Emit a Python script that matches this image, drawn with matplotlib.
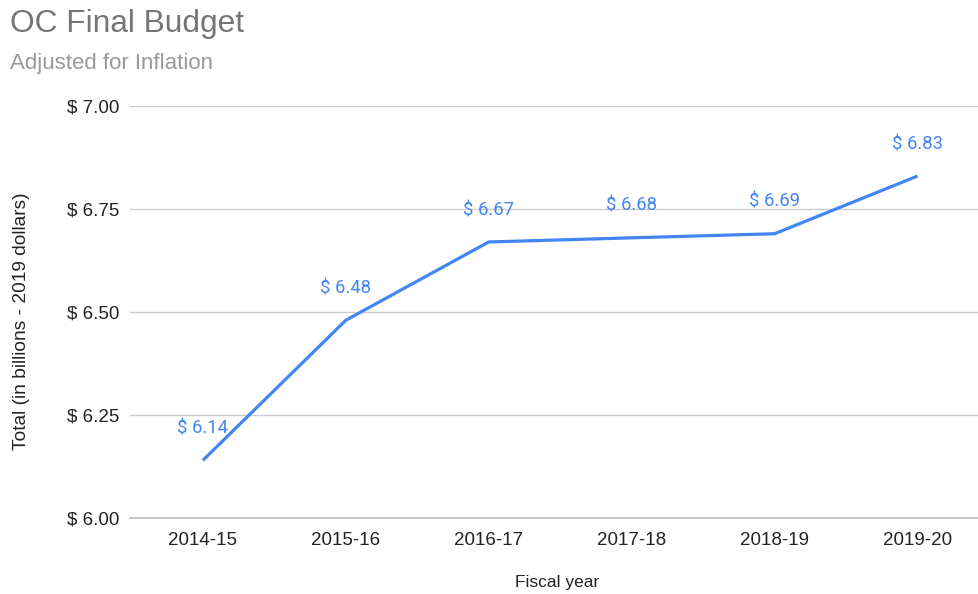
import matplotlib
matplotlib.use("Agg")
import matplotlib.pyplot as plt

years = ["2014-15", "2015-16", "2016-17", "2017-18", "2018-19", "2019-20"]
budget = [6.14, 6.48, 6.67, 6.68, 6.69, 6.83]
yticks = [6.00, 6.25, 6.50, 6.75, 7.00]

W, H = 979, 594
fig = plt.figure(figsize=(W / 100, H / 100), dpi=100)
ax = fig.add_axes([130 / W, (H - 518) / H, (979 - 130) / W, (518 - 106) / H])

x = list(range(len(years)))
ax.plot(x, budget, color="#4285F4", lw=2.3, solid_capstyle="butt", zorder=3)
for xi, v in zip(x, budget):
    ax.annotate(f"$ {v:.2f}", (xi, v), xytext=(0, 23), textcoords="offset points",
                ha="center", va="center", color="#4285F4", fontsize=13.3,
                family=["Roboto", "DejaVu Sans"])

ax.set_xlim(-0.51, 5.43)
ax.set_ylim(6.0, 7.0)
ax.set_yticks(yticks)
ax.set_yticklabels([f"$ {t:.2f}" for t in yticks])
ax.set_xticks(x)
ax.set_xticklabels(years)
ax.grid(axis="y", color="#cccccc", lw=1)
ax.set_axisbelow(True)
for s in ax.spines.values():
    s.set_visible(False)
ax.spines["bottom"].set_visible(True)
ax.spines["bottom"].set_color("#bbbbbb")
ax.spines["bottom"].set_linewidth(1.2)
ax.tick_params(length=0, labelsize=13.5, colors="#222222", pad=10)
ax.tick_params(axis="y", pad=8)
for lab in ax.get_xticklabels() + ax.get_yticklabels():
    lab.set_family(["Liberation Sans", "DejaVu Sans"])

fig.text(557 / W, 1 - 583 / H, "Fiscal year", ha="center", va="center",
         fontsize=12.5, color="#222222", family=["Liberation Sans"])
fig.text(22 / W, 1 - 321 / H, "Total (in billions - 2019 dollars)", rotation=90,
         ha="center", va="center", fontsize=13.8, color="#222222", family=["Liberation Sans"])
fig.text(10 / W, 1 - 24 / H, "OC Final Budget", ha="left", va="center",
         fontsize=22.8, color="#757575", family=["Liberation Sans"])
fig.text(10 / W, 1 - 64 / H, "Adjusted for Inflation", ha="left", va="center",
         fontsize=16, color="#999999", family=["Liberation Sans"])

fig.savefig("out.png", dpi=100)
